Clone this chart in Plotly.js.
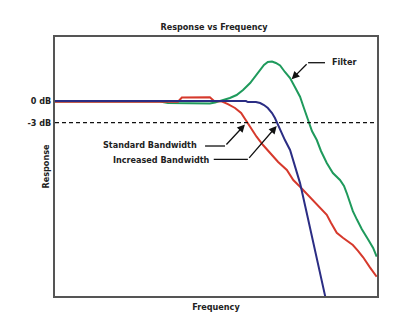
<!DOCTYPE html>
<html>
<head>
<meta charset="utf-8">
<script src="https://cdn.plot.ly/plotly-3.0.1.min.js"></script>
<style>html,body{margin:0;padding:0;background:#fff;}#chart{width:400px;height:333px;}</style>
</head>
<body>
<div id="chart"></div>
<script>
// Frequency (arbitrary units 0-100) and response (dB)
const blueX = [0, 29.5, 59.3, 59.9, 62.4, 63.7, 64.9, 66.1, 67.4, 68.3, 68.9, 69.9, 71.4, 73.0, 74.5, 76.1, 78.2, 81.3, 83.9];
const blueY = [0, 0, 0, -0.14, -0.14, -0.28, -0.56, -0.97, -1.67, -2.36, -3.0, -4.03, -5.42, -6.8, -9.03, -11.4, -15.6, -21.7, -27.1];

const redX = [0, 38.2, 39.4, 48.1, 49.4, 51.9, 53.7, 55.9, 57.8, 59.5, 60.9, 62.6, 64.6, 66.8, 69.3, 72.0, 74.0, 76.1, 77.95, 80.1, 82.3, 84.4, 85.7, 87.5, 89.4, 92.5, 94.1, 95.7, 97.8, 99.9];
const redY = [-0.1, -0.1, 0.49, 0.51, 0, -0.07, -0.42, -0.97, -1.67, -2.88, -3.89, -4.96, -6.11, -7.22, -8.47, -9.58, -10.97, -11.9, -12.78, -13.75, -14.7, -15.8, -16.9, -18.3, -19.0, -20.0, -20.8, -21.7, -23.1, -24.4];

const greenX = [0, 32.6, 35.1, 48.1, 49.7, 51.9, 54.3, 56.4, 58.4, 60.6, 62.1, 63.7, 64.9, 66.1, 67.4, 68.6, 69.9, 71.4, 73.0, 74.5, 76.1, 77.3, 78.6, 79.8, 81.3, 82.6, 84.4, 86.3, 88.5, 89.75, 90.6, 91.6, 92.5, 93.8, 95.3, 97.2, 98.8, 99.9];
const greenY = [-0.07, -0.07, -0.28, -0.35, -0.2, 0.07, 0.42, 0.83, 1.53, 2.5, 3.33, 4.31, 5.0, 5.42, 5.49, 5.28, 4.93, 4.03, 3.19, 1.94, 0.6, -0.97, -2.64, -4.17, -5.42, -6.94, -8.61, -10.0, -10.97, -11.8, -12.78, -14.2, -15.3, -16.5, -17.8, -19.2, -20.4, -21.6];

const tickVals = [0, -3];
const tickText = ['0 dB', '-3 dB'];

const FONT = 'Liberation Sans Narrow, DejaVu Sans Condensed, Arial Narrow, sans-serif';
const FS = 9;

const traces = [
  {x: greenX, y: greenY, mode: 'lines', line: {color: '#1f9a5c', width: 2}, hoverinfo: 'skip'},
  {x: redX, y: redY, mode: 'lines', line: {color: '#d6392c', width: 2}, hoverinfo: 'skip'},
  {x: blueX, y: blueY, mode: 'lines', line: {color: '#2b2d84', width: 2}, hoverinfo: 'skip'}
];

function arrow(tx, ty, hx, hy) {
  return {x: hx, y: hy, ax: tx, ay: ty, xref: 'x', yref: 'y', axref: 'x', ayref: 'y',
    text: '', showarrow: true, arrowhead: 2, arrowsize: 1.2, arrowwidth: 1.3, arrowcolor: '#111'};
}
function label(t, x, y, anchor) {
  return {x: x, y: y, xref: 'x', yref: 'y', text: '<b>' + t + '</b>', showarrow: false,
    xanchor: anchor, yanchor: 'middle', font: {family: FONT, size: FS, color: '#222'}};
}

const layout = {
  width: 400, height: 333,
  margin: {l: 55, r: 23, t: 37, b: 37},
  paper_bgcolor: '#fff', plot_bgcolor: '#fff',
  showlegend: false,
  title: {text: '<b>Response vs Frequency</b>', x: 0.535, xanchor: 'center', y: 0.918, yanchor: 'middle',
    font: {family: FONT, size: FS, color: '#222'}},
  xaxis: {range: [0, 100], showgrid: false, zeroline: false, showticklabels: false, ticks: '',
    showline: true, mirror: true, linecolor: '#555', linewidth: 2,
    title: {text: '<b>Frequency</b>', font: {family: FONT, size: FS, color: '#222'}, standoff: 7}},
  yaxis: {range: [-27.08, 8.89], showgrid: false, zeroline: false, ticks: '',
    tickvals: tickVals, ticktext: tickText.map(t => '<b>' + t + '</b>'),
    tickfont: {family: FONT, size: FS, color: '#222'},
    showline: true, mirror: true, linecolor: '#555', linewidth: 2},
  shapes: [
    {type: 'line', xref: 'x', yref: 'y', x0: 0, x1: 100, y0: -3, y1: -3,
      line: {color: '#111', width: 1.3, dash: '4px,3px'}},
    {type: 'line', xref: 'x', yref: 'y', x0: 78.6, x1: 83.85, y0: 5.32, y1: 5.32, line: {color: '#111', width: 1.3}},
    {type: 'line', xref: 'x', yref: 'y', x0: 46.6, x1: 52.8, y0: -6.25, y1: -6.25, line: {color: '#111', width: 1.3}},
    {type: 'line', xref: 'x', yref: 'y', x0: 49.3, x1: 59.9, y0: -8.1, y1: -8.1, line: {color: '#111', width: 1.3}}
  ],
  annotations: [
    arrow(78.6, 5.32, 73.5, 3.01),
    arrow(52.8, -6.25, 59.0, -3.26),
    arrow(59.9, -8.1, 68.85, -3.47),
    label('Filter', 85.4, 5.46, 'left'),
    label('Standard Bandwidth', 44.7, -6.11, 'right'),
    label('Increased Bandwidth', 48.7, -8.19, 'right'),
    {x: 0, y: 0.5, xref: 'paper', yref: 'paper', xshift: -10, text: '<b>Response</b>', textangle: -90,
      showarrow: false, xanchor: 'center', yanchor: 'middle', font: {family: FONT, size: FS, color: '#222'}}
  ]
};

Plotly.newPlot('chart', traces, layout, {staticPlot: true, displayModeBar: false});
</script>
</body>
</html>
